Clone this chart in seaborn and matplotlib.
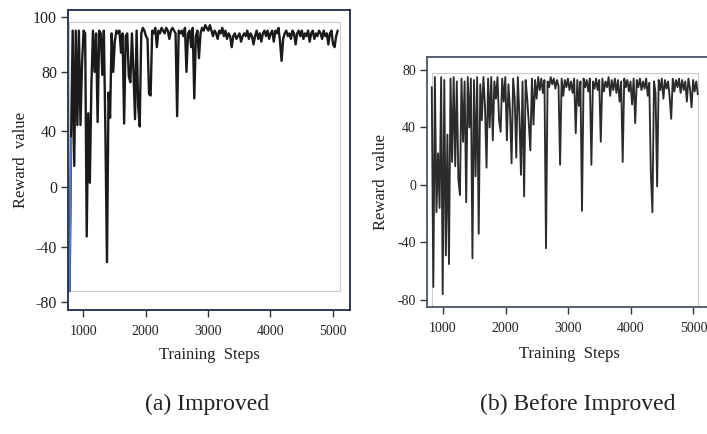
import matplotlib
matplotlib.use("Agg")
import matplotlib.pyplot as plt
import numpy as np
import pandas as pd
import seaborn as sns
from matplotlib.patches import Rectangle


# (a) Improved: reward per training step (every 25 steps from 780)
reward_a = [
    -72, 35, 95, 15, 95, 44, 95, 44, 83, 95,
    94, -33, 52, 3, 71, 95, 80, 94, 46, 95,
    94, 78, 95, 38, -51, 66, 49, 94, 80, 91,
    95, 94, 95, 87, 94, 45, 93, 94, 77, 73,
    94, 80, 48, 95, 57, 43, 94, 96, 95, 93,
    92, 65, 64, 95, 94, 96, 89, 95, 94, 96,
    95, 94, 96, 95, 92, 95, 96, 95, 94, 50,
    95, 94, 95, 93, 96, 80, 94, 95, 89, 96,
    62, 93, 95, 85, 94, 96, 95, 97, 96, 95,
    97, 95, 93, 95, 94, 92, 95, 94, 96, 93,
    95, 92, 94, 93, 89, 93, 94, 92, 93, 94,
    91, 93, 94, 93, 95, 92, 94, 93, 90, 93,
    95, 92, 94, 91, 94, 95, 93, 95, 92, 94,
    95, 91, 95, 94, 96, 91, 84, 92, 94, 95,
    93, 94, 92, 95, 94, 90, 94, 95, 93, 95,
    92, 94, 93, 95, 91, 94, 95, 92, 94, 93,
    95, 94, 92, 95, 93, 94, 90, 94, 95, 90,
    89, 93, 95,
]
start_a = 780

# (b) Before Improved (every 25 steps from 820)
reward_b = [
    68, -71, 75, -19, 22, -16, 75, -76, 73, -49,
    35, -55, 74, 16, 75, 13, 72, 4, -7, 74,
    30, 72, -12, 75, 40, 74, -51, 73, 6, 75,
    -34, 70, 45, 75, 55, 12, 74, 40, 75, 31,
    72, 60, 75, 45, 37, 74, 58, 75, 31, 70,
    52, 15, 74, 60, 19, 75, 48, 7, 72, -8,
    73, 60, 43, 24, 74, 42, 73, 60, 75, 66,
    74, 64, 73, -44, 72, 68, 75, 70, 74, 67,
    73, 69, 14, 74, 62, 73, 68, 74, 66, 72,
    64, 74, 36, 73, 55, 72, -18, 74, 68, 73,
    65, 74, 14, 72, 67, 74, 66, 73, 30, 74,
    65, 72, 68, 75, 62, 73, 66, 74, 64, 73,
    58, 72, 16, 74, 68, 73, 65, 72, 56, 74,
    43, 73, 68, 74, 66, 72, 67, 74, 62, 71,
    8, -19, 72, 64, -1, 73, 66, 74, 60, 73,
    67, 72, 61, 46, 74, 65, 73, 68, 74, 64,
    73, 66, 72, 58, 74, 67, 54, 73, 65, 72,
    63,
]
start_b = 820
step = 25

x_ticks = [1000, 2000, 3000, 4000, 5000]
y_ticks_a = [-80, -40, 0, 40, 80, 100]
y_ticks_b = [-80, -40, 0, 40, 80]

df_a = pd.DataFrame({"step": start_a + step * np.arange(len(reward_a)), "reward": reward_a})
df_b = pd.DataFrame({"step": start_b + step * np.arange(len(reward_b)), "reward": reward_b})

sns.set_theme(style="ticks")
plt.rcParams["font.family"] = ["Liberation Serif", "DejaVu Serif"]
plt.rcParams["axes.unicode_minus"] = False

fig = plt.figure(figsize=(7.07, 4.34), dpi=100)
ax_a = fig.add_axes([68 / 707, 1 - 310 / 434, 282 / 707, 300 / 434])
# right panel runs past the figure edge, as in the original
ax_b = fig.add_axes([427 / 707, 1 - 307 / 434, 300 / 707, 250 / 434])

# the left panel's axis is not evenly spaced in the original (100 sits close to 80)
tick_vals = [-130, -80, -40, 0, 40, 80, 100, 150]
tick_pix = [-370.75, -302, -247, -187, -131, -72, -17, 120.5]


def fwd(v):
    return np.interp(v, tick_vals, tick_pix)


def inv(p):
    return np.interp(p, tick_pix, tick_vals)


ax_a.set_yscale("function", functions=(fwd, inv))

# panel (a)
sns.lineplot(data=df_a, x="step", y="reward", ax=ax_a, color="#1a1a1a",
             lw=1.7, estimator=None, sort=False)
sns.lineplot(data=df_a.iloc[:2], x="step", y="reward", ax=ax_a, color="#4a7fd4",
             lw=1.3, estimator=None, sort=False)
ax_a.add_patch(Rectangle((df_a.step.min() - 4, df_a.reward.min()),
                         df_a.step.max() - df_a.step.min() + 40,
                         df_a.reward.max() + 1 - df_a.reward.min(),
                         fill=False, ec="#cccccc", lw=0.8, zorder=0))
ax_a.set_xlim(755, 5277)
ax_a.set_ylim(-85.8, 102.5)
ax_a.set_yticks(y_ticks_a)
ax_a.set_yticklabels([str(t) for t in y_ticks_a])

# panel (b)
sns.lineplot(data=df_b, x="step", y="reward", ax=ax_b, color="#2b2b2b",
             lw=1.35, estimator=None, sort=False)
ax_b.add_patch(Rectangle((df_b.step.min(), -84.5),
                         df_b.step.max() - df_b.step.min() + 5,
                         df_b.reward.max() + 3 + 84.5,
                         fill=False, ec="#cccccc", lw=0.8, zorder=0))
ax_b.set_xlim(744, 744 + 300 / 0.0626)
ax_b.set_ylim(-84.9, 89)
ax_b.set_yticks(y_ticks_b)

for ax, frame, ysize, ypad in [(ax_a, "#1e2c4c", 11.5, 3), (ax_b, "#4a5566", 10, 6)]:
    ax.set_xticks(x_ticks)
    for s in ax.spines.values():
        s.set_color(frame)
        s.set_linewidth(1.3)
    ax.tick_params(direction="out", length=5, width=1, color="#333333",
                   labelcolor="#222222", pad=3)
    ax.tick_params(axis="x", labelsize=10, pad=6)
    ax.tick_params(axis="y", labelsize=ysize)
    ax.set_xlabel("Training  Steps", fontsize=12, labelpad=6, color="#222222")
    ax.set_ylabel("Reward  value", fontsize=12, labelpad=ypad, color="#222222")
    ax.grid(False)

# keep the right x label centred on the visible part of the panel
ax_b.xaxis.set_label_coords((569 - 427) / 300, -0.155)

fig.text(207 / 707, 1 - 404 / 434, "(a) Improved", ha="center", va="center",
         fontsize=17, color="#222222")
fig.text(578 / 707, 1 - 404 / 434, "(b) Before Improved", ha="center", va="center",
         fontsize=17, color="#222222")

fig.savefig("out.png", dpi=100)
